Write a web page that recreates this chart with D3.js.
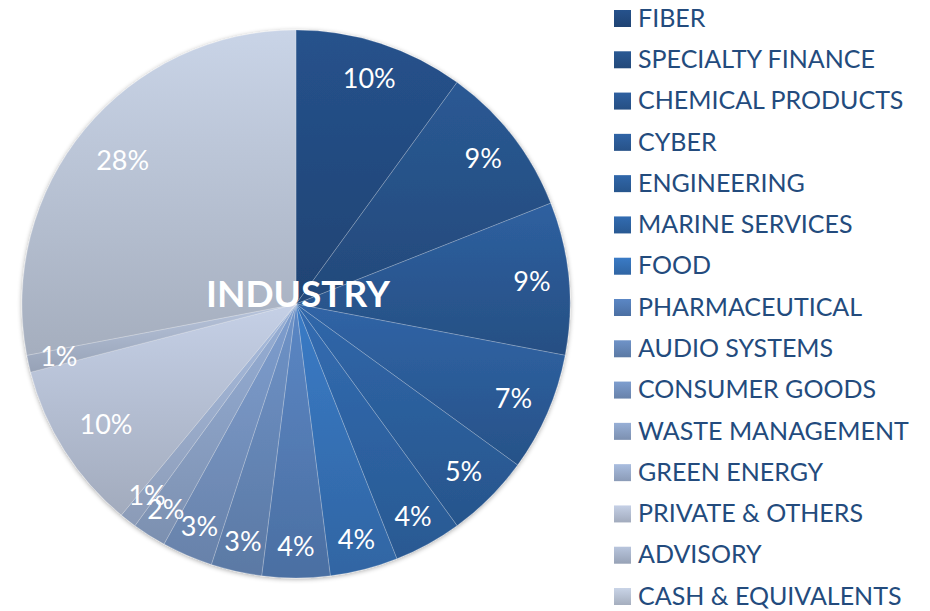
<!DOCTYPE html>
<html>
<head>
<meta charset="utf-8">
<script src="https://cdn.jsdelivr.net/npm/d3@7"></script>
<style>
  body { margin: 0; background: #fff; }
  text { font-family: Lato, "Open Sans", sans-serif; }
</style>
</head>
<body>
<div id="vizArea"></div>
<script>
var categories = ["FIBER", "SPECIALTY FINANCE", "CHEMICAL PRODUCTS", "CYBER", "ENGINEERING",
  "MARINE SERVICES", "FOOD", "PHARMACEUTICAL", "AUDIO SYSTEMS", "CONSUMER GOODS",
  "WASTE MANAGEMENT", "GREEN ENERGY", "PRIVATE & OTHERS", "ADVISORY", "CASH & EQUIVALENTS"];
var values = [10, 9, 9, 7, 5, 4, 4, 4, 3, 3, 2, 1, 10, 1, 28];
var colors = ["#26528c", "#2a5994", "#2e60a0", "#3064a6", "#3067aa",
  "#326cb2", "#3a7bc6", "#5b87c5", "#6f93c8", "#7e9ecf",
  "#97afd6", "#a9bddf", "#c5d0e6", "#b8c5dd", "#c9d4e7"];

var width = 930, height = 611;
var cx = 296, cy = 304, radius = 274;

var canvas = d3.select("#vizArea")
  .append("svg")
    .attr("width", width)
    .attr("height", height);

var defs = canvas.append("defs");

// soft shadow under the pie
var shadow = defs.append("filter").attr("id", "shadow")
  .attr("x", "-10%").attr("y", "-10%").attr("width", "120%").attr("height", "120%");
shadow.append("feGaussianBlur").attr("in", "SourceAlpha").attr("stdDeviation", 2.5);
shadow.append("feOffset").attr("dx", 0).attr("dy", 1).attr("result", "b");
shadow.append("feComponentTransfer").append("feFuncA").attr("type", "linear").attr("slope", 0.35);
var merge = shadow.append("feMerge");
merge.append("feMergeNode");
merge.append("feMergeNode").attr("in", "SourceGraphic");

// vertical gradient per colour: lighter at top, darker at bottom
colors.forEach(function (c, i) {
  var g = defs.append("linearGradient").attr("id", "grad" + i)
    .attr("x1", 0).attr("y1", 0).attr("x2", 0).attr("y2", 1);
  g.append("stop").attr("offset", "0%").attr("stop-color", c);
  g.append("stop").attr("offset", "100%").attr("stop-color", d3.color(c).darker(0.55));
});

var pie = d3.pie().sort(null).value(function (d) { return d; });
var arcs = pie(values);
var arc = d3.arc().innerRadius(0).outerRadius(radius);

// labels sit a bit further out on thin slices, further in on the big left ones
function labelPos(d) {
  var mid = (d.startAngle + d.endAngle) / 2;
  var r = 237;
  if (d.data <= 4) r = 243;
  if (d.data >= 10 && mid > Math.PI) r = 225;
  return [Math.sin(mid) * r, -Math.cos(mid) * r];
}

var g = canvas.append("g")
  .attr("transform", "translate(" + cx + "," + cy + ")");

g.append("g").attr("filter", "url(#shadow)")
  .selectAll("path")
  .data(arcs)
  .enter().append("path")
    .attr("d", arc)
    .attr("fill", function (d, i) { return "url(#grad" + i + ")"; })
    .attr("stroke", "rgba(255,255,255,0.35)")
    .attr("stroke-width", 0.6);

g.selectAll("text.pct")
  .data(arcs)
  .enter().append("text")
    .attr("class", "pct")
    .attr("transform", function (d) { return "translate(" + labelPos(d) + ")"; })
    .attr("text-anchor", "middle")
    .attr("dy", "0.35em")
    .attr("fill", "#fff")
    .attr("font-size", 27)
    .text(function (d) { return d.data + "%"; });

g.append("text")
  .attr("x", 2)
  .attr("y", -10)
  .attr("text-anchor", "middle")
  .attr("dy", "0.35em")
  .attr("fill", "#fff")
  .attr("font-size", 37)
  .attr("font-weight", "bold")
  .text("INDUSTRY");

// legend
var legendY = d3.scalePoint().domain(categories).range([18, 596]);
var legend = canvas.append("g");
var item = legend.selectAll("g")
  .data(categories)
  .enter().append("g")
    .attr("transform", function (d) { return "translate(614," + legendY(d) + ")"; });
item.append("rect")
  .attr("x", 0).attr("y", -8)
  .attr("width", 17).attr("height", 17)
  .attr("fill", function (d, i) { return "url(#grad" + i + ")"; });
item.append("text")
  .attr("x", 24)
  .attr("dy", "0.35em")
  .attr("fill", "#234b7d")
  .attr("font-size", 25)
  .text(function (d) { return d; });
</script>
</body>
</html>
